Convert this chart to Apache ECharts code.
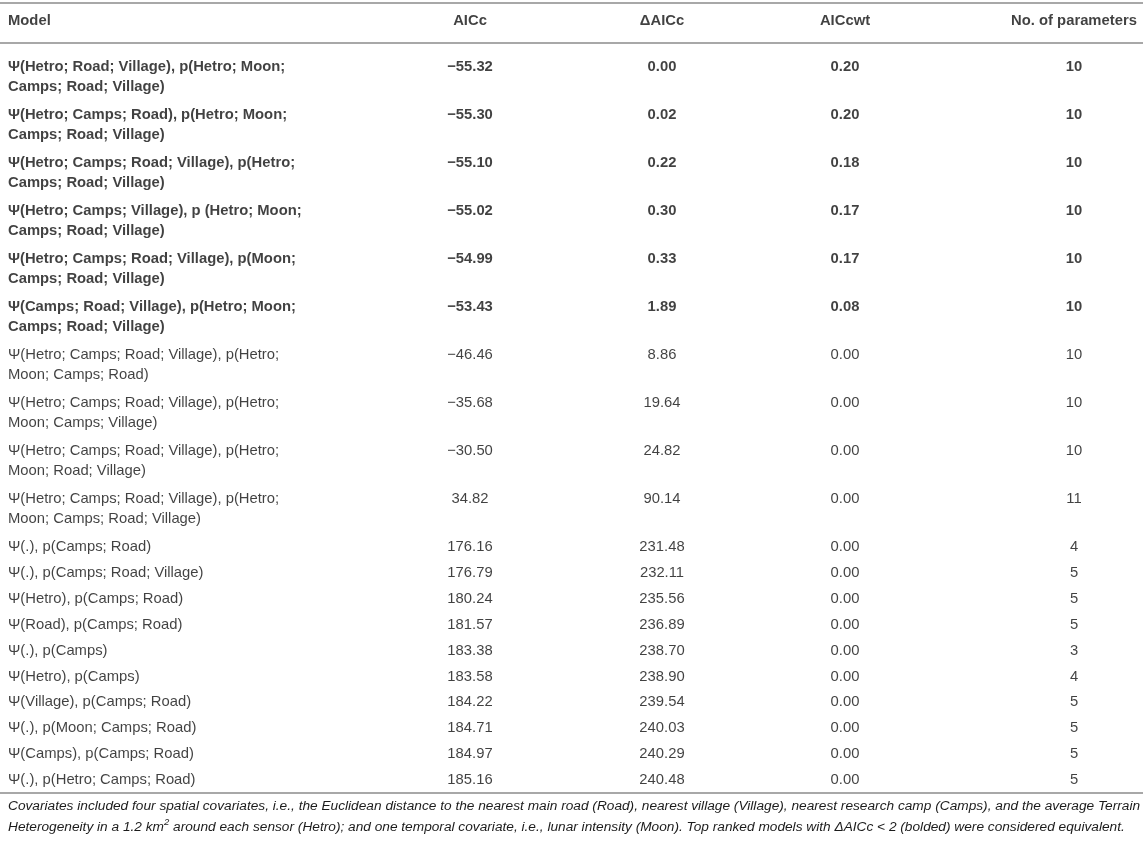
<!DOCTYPE html>
<html>
<head>
<meta charset="utf-8">
<script src="https://cdn.jsdelivr.net/npm/echarts@6/dist/echarts.min.js"></script>
<style>
html,body{margin:0;padding:0;background:#fff;}
#chart{width:1143px;height:850px;}
</style>
</head>
<body>
<div id="chart"></div>
<script>
// ---------- data ----------
const headers = ['Model', 'AICc', '\u0394AICc', 'AICcwt', 'No. of parameters'];
const models = [
  '\u03a8(Hetro; Road; Village), p(Hetro; Moon;\nCamps; Road; Village)',
  '\u03a8(Hetro; Camps; Road), p(Hetro; Moon;\nCamps; Road; Village)',
  '\u03a8(Hetro; Camps; Road; Village), p(Hetro;\nCamps; Road; Village)',
  '\u03a8(Hetro; Camps; Village), p (Hetro; Moon;\nCamps; Road; Village)',
  '\u03a8(Hetro; Camps; Road; Village), p(Moon;\nCamps; Road; Village)',
  '\u03a8(Camps; Road; Village), p(Hetro; Moon;\nCamps; Road; Village)',
  '\u03a8(Hetro; Camps; Road; Village), p(Hetro;\nMoon; Camps; Road)',
  '\u03a8(Hetro; Camps; Road; Village), p(Hetro;\nMoon; Camps; Village)',
  '\u03a8(Hetro; Camps; Road; Village), p(Hetro;\nMoon; Road; Village)',
  '\u03a8(Hetro; Camps; Road; Village), p(Hetro;\nMoon; Camps; Road; Village)',
  '\u03a8(.), p(Camps; Road)',
  '\u03a8(.), p(Camps; Road; Village)',
  '\u03a8(Hetro), p(Camps; Road)',
  '\u03a8(Road), p(Camps; Road)',
  '\u03a8(.), p(Camps)',
  '\u03a8(Hetro), p(Camps)',
  '\u03a8(Village), p(Camps; Road)',
  '\u03a8(.), p(Moon; Camps; Road)',
  '\u03a8(Camps), p(Camps; Road)',
  '\u03a8(.), p(Hetro; Camps; Road)'
];
const aicc = [-55.32, -55.30, -55.10, -55.02, -54.99, -53.43, -46.46, -35.68, -30.50, 34.82,
  176.16, 176.79, 180.24, 181.57, 183.38, 183.58, 184.22, 184.71, 184.97, 185.16];
const deltaAicc = [0.00, 0.02, 0.22, 0.30, 0.33, 1.89, 8.86, 19.64, 24.82, 90.14,
  231.48, 232.11, 235.56, 236.89, 238.70, 238.90, 239.54, 240.03, 240.29, 240.48];
const aiccWt = [0.20, 0.20, 0.18, 0.17, 0.17, 0.08, 0.00, 0.00, 0.00, 0.00,
  0.00, 0.00, 0.00, 0.00, 0.00, 0.00, 0.00, 0.00, 0.00, 0.00];
const nParams = [10, 10, 10, 10, 10, 10, 10, 10, 10, 11, 4, 5, 5, 5, 3, 4, 5, 5, 5, 5];
const footLine1 = 'Covariates included four spatial covariates, i.e., the Euclidean distance to the nearest main road (Road), nearest village (Village), nearest research camp (Camps), and the average Terrain';
const footLine2a = 'Heterogeneity in a 1.2 km';
const footLine2sup = '2';
const footLine2b = ' around each sensor (Hetro); and one temporal covariate, i.e., lunar intensity (Moon). Top ranked models with \u0394AICc < 2 (bolded) were considered equivalent.';

// ---------- layout ----------
const W = 1143, H = 850;
const FONT = "'Liberation Sans', Arial, Helvetica, sans-serif";
const FS = 14.8;
const colX = [8, 470, 662, 845, 1074];        // column anchors
const colAlign = ['left', 'center', 'center', 'center', 'center'];
const ruleTop = 3, headerY = 21, ruleHead = 43;
const firstLineY = 67, lineGap = 20, twoLineH = 48, oneLineH = 25.9, bottomPad = 13;

function fmt(v) { return v.toFixed(2).replace('-', '\u2212'); }

const cells = [];
function addCell(col, y, text, bold) {
  cells.push({
    value: [colX[col], y],
    label: {
      formatter: text,
      align: colAlign[col],
      fontWeight: bold ? 'bold' : 'normal'
    }
  });
}
// header
headers.forEach((h, c) => addCell(c, headerY, h, true));
// body
let y = firstLineY;
let lastLineY = y;
models.forEach((m, i) => {
  const bold = deltaAicc[i] < 2;
  const lines = m.split('\n');
  lines.forEach((ln, k) => { addCell(0, y + k * lineGap, ln, bold); lastLineY = y + k * lineGap; });
  addCell(1, y, fmt(aicc[i]), bold);
  addCell(2, y, fmt(deltaAicc[i]), bold);
  addCell(3, y, fmt(aiccWt[i]), bold);
  addCell(4, y, String(nParams[i]), bold);
  y += lines.length > 1 ? twoLineH : oneLineH;
});
const ruleBottom = lastLineY + bottomPad;

const chart = echarts.init(document.getElementById('chart'), null, { renderer: 'canvas' });
chart.setOption({
  animation: false,
  backgroundColor: '#fff',
  grid: { left: 0, right: 0, top: 0, bottom: 0 },
  xAxis: { type: 'value', min: 0, max: W, show: false },
  yAxis: { type: 'value', min: 0, max: H, inverse: true, show: false },
  series: [{
    type: 'scatter',
    symbolSize: 0.1,
    itemStyle: { color: 'rgba(0,0,0,0)' },
    silent: true,
    data: cells,
    label: {
      show: true,
      position: 'inside',
      verticalAlign: 'middle',
      color: '#111111',
      fontFamily: FONT,
      fontSize: FS
    },
    markLine: {
      silent: true,
      symbol: 'none',
      label: { show: false },
      lineStyle: { color: '#a8a8a8', width: 2, type: 'solid' },
      data: [{ yAxis: ruleTop }, { yAxis: ruleHead }, { yAxis: ruleBottom }]
    }
  }],
  graphic: [{
    type: 'text',
    left: 8,
    top: ruleBottom + 3,
    silent: true,
    style: {
      text: footLine1 + '\n' + footLine2a + '{sup|' + footLine2sup + '}' + footLine2b,
      font: 'italic 13.7px ' + FONT,
      fill: '#1c1c1c',
      lineHeight: 21,
      rich: {
        sup: { fontSize: 9.5, fontStyle: 'italic', fontFamily: FONT, verticalAlign: 'top', padding: [0, 0, 7, 0], fill: '#1c1c1c' }
      }
    }
  }]
});
</script>
</body>
</html>
